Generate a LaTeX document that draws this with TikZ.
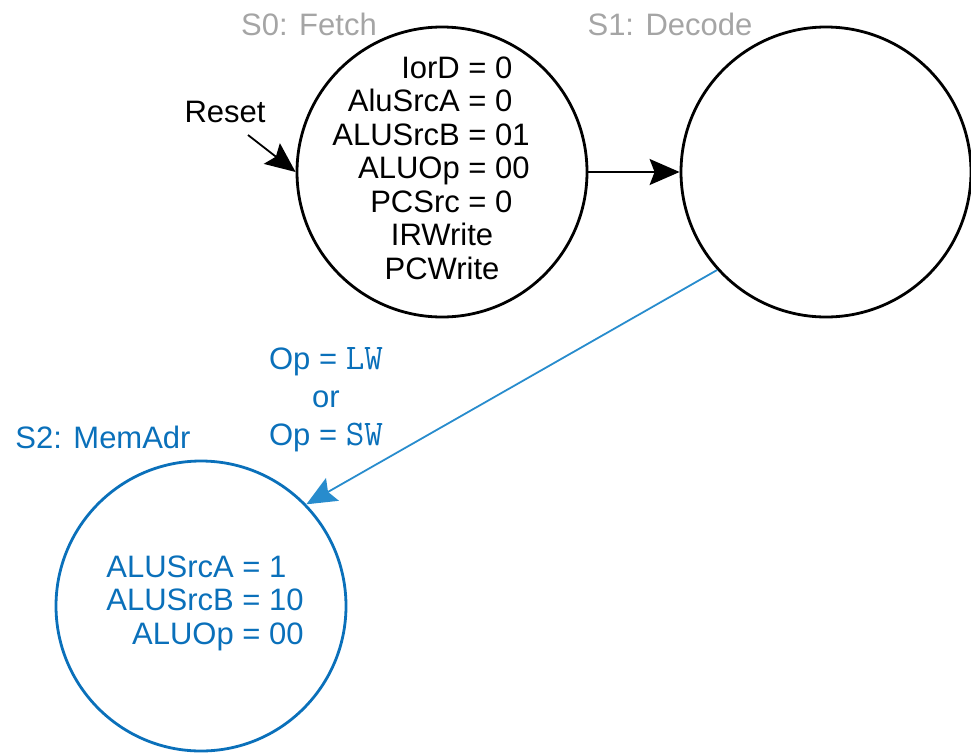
\documentclass[tikz,border=0pt]{standalone}
\usepackage{fontspec}
\setmainfont{Liberation Sans}
\usetikzlibrary{arrows.meta}
\definecolor{fsmblue}{RGB}{10,112,186}
\definecolor{linkblue}{RGB}{40,140,205}
\definecolor{labelgray}{RGB}{165,165,165}
\newcommand\opname[1]{{\fontsize{36}{38}\selectfont\ttfamily #1}}
\tikzset{
  state/.style={circle, draw, line width=2.8pt, minimum size=290pt, inner sep=0pt},
  body/.style={font=\fontsize{31}{33.5}\selectfont, inner sep=0pt},
  statename/.style={font=\fontsize{31}{34}\selectfont, inner sep=0pt},
  link/.style={line width=1.8pt, -{Stealth[length=30pt,width=26pt,inset=5pt]}},
}
\begin{document}
\begin{tikzpicture}[x=1pt,y=-1pt]
  \useasboundingbox (0,0) rectangle (971,755);

  % states
  \node[state] (s0) at (442,172) {};
  \node[state] (s1) at (826,172) {};
  \node[state, draw=fsmblue] (s2) at (201,606) {};

  % state names
  \node[statename, text=labelgray] (n0) at (309,24) {S0: Fetch};
  \node[statename, text=labelgray] (n1) at (670,24) {S1: Decode};
  \node[statename, text=fsmblue] (n2) at (103,437) {S2: MemAdr};

  % outputs asserted in each state
  \node[body] (o0) at (431,172) {%
    \begin{tabular}{@{}r@{\ =\ }l@{}}
      IorD & 0\\
      AluSrcA & 0\\
      ALUSrcB & 01\\
      ALUOp & 00\\
      PCSrc & 0\\
      \multicolumn{2}{@{}c@{}}{\hspace*{22pt}IRWrite}\\
      \multicolumn{2}{@{}c@{}}{\hspace*{22pt}PCWrite}
    \end{tabular}};
  \node[body, text=fsmblue] (o2) at (205,604) {%
    \begin{tabular}{@{}r@{\ =\ }l@{}}
      ALUSrcA & 1\\
      ALUSrcB & 10\\
      ALUOp & 00
    \end{tabular}};

  % reset entry
  \node[statename] (reset) at (225,112) {Reset};
  \coordinate (rs) at (248,135);
  \draw[link] (rs) -- (s0.west);

  % transitions
  \draw[link] (s0.east) -- (s1.west);
  \draw[link, draw=linkblue, fill=fsmblue] (s1.222) -- (s2.44);
  \node[font=\fontsize{31}{38}\selectfont, text=fsmblue, align=center, inner sep=0pt] (cond) at (326,400)
    {Op = \opname{LW}\\or\\Op = \opname{SW}};
\end{tikzpicture}
\end{document}
